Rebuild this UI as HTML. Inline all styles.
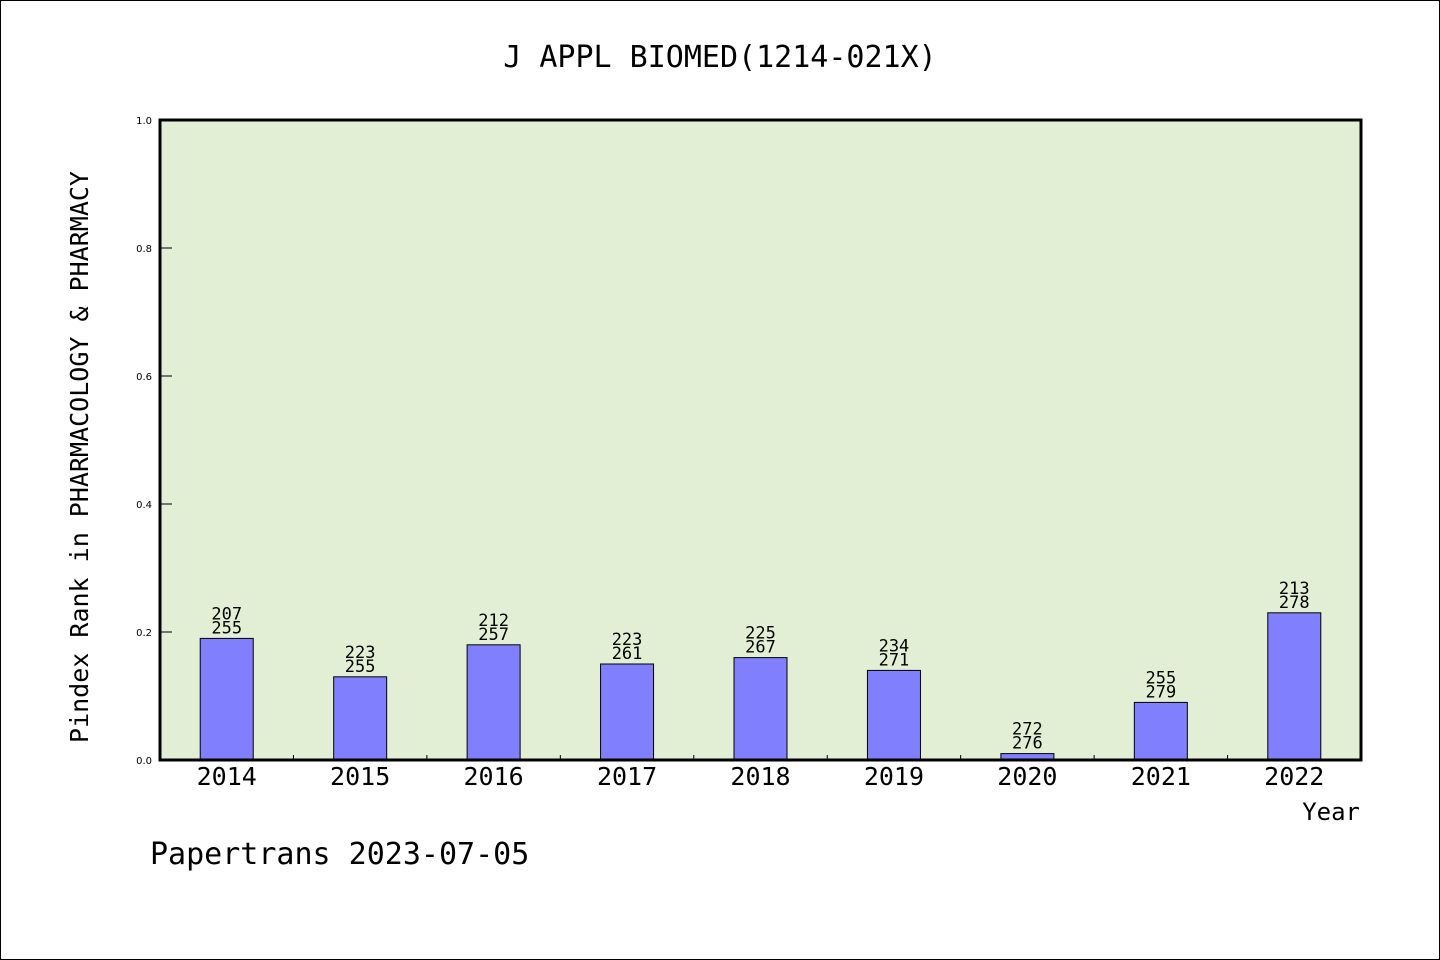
<!DOCTYPE html>
<html><head><meta charset="utf-8"><style>
html,body{margin:0;padding:0;background:#fff}
svg{display:block}
text{font-family:"DejaVu Sans Mono","Liberation Mono",monospace;fill:#000}
text.yt{font-family:"DejaVu Sans","Liberation Sans",sans-serif}
</style></head><body>
<svg id="chart" width="1440" height="960" xmlns="http://www.w3.org/2000/svg">
<rect x="0.5" y="0.5" width="1439" height="959" fill="#fff" stroke="#000"/>
<text x="720" y="67" font-size="30" text-anchor="middle">J APPL BIOMED(1214-021X)</text>
<rect x="160" y="120" width="1201" height="640" fill="#e2efd5"/>
<g id="yaxis"></g>
<g id="bars"></g>
<g id="xaxis"></g>
<rect x="160" y="120" width="1201" height="640" fill="none" stroke="#000" stroke-width="3"/>
<text transform="translate(88,457) rotate(-90)" font-size="25" text-anchor="middle">Pindex Rank in PHARMACOLOGY &amp; PHARMACY</text>
<text x="1360" y="820" font-size="24" text-anchor="end">Year</text>
<text x="150" y="864" font-size="30">Papertrans 2023-07-05</text>
</svg>
<script>
const categories = ["2014","2015","2016","2017","2018","2019","2020","2021","2022"];
const values = [0.19,0.13,0.18,0.15,0.16,0.14,0.01,0.09,0.23];
const rankTop = ["207","223","212","223","225","234","272","255","213"];
const rankBottom = ["255","255","257","261","267","271","276","279","278"];
const yTicks = [0,0.2,0.4,0.6,0.8,1.0];
const yTickLabels = ["0.0","0.2","0.4","0.6","0.8","1.0"];

const NS="http://www.w3.org/2000/svg";
const X0=160,X1=1361,Y0=760,Y1=120;
const bw=(X1-X0)/categories.length;
const xCenter=i=>X0+bw*(i+0.5);
const yScale=v=>Y0-(Y0-Y1)*v;
function mk(tag,attrs,parent){const e=document.createElementNS(NS,tag);for(const k in attrs)e.setAttribute(k,attrs[k]);parent.appendChild(e);return e;}
const ya=document.getElementById('yaxis'),bars=document.getElementById('bars'),xa=document.getElementById('xaxis');
yTicks.forEach((t,i)=>{
  const y=yScale(t);
  const l=mk('line',{x1:160,x2:172,y1:y,y2:y,stroke:'#000','stroke-width':1},ya);
  
  
  const tx=mk('text',{x:152,y:y+4,'font-size':10,'text-anchor':'end','class':'yt'},ya);
  tx.textContent=yTickLabels[i];
  
  
});
categories.forEach((c,i)=>{
  const cx=xCenter(i),y=yScale(values[i]);
  const r=mk('rect',{x:cx-26.5,y:y,width:53,height:Y0-y,fill:'#8080ff',stroke:'#000','stroke-width':1},bars);
  
  
  const t1=mk('text',{x:cx,y:y-19,'font-size':17,'text-anchor':'middle'},bars);
  t1.textContent=rankTop[i];
  
  
  const t2=mk('text',{x:cx,y:y-5,'font-size':17,'text-anchor':'middle'},bars);
  t2.textContent=rankBottom[i];
  
  
  const xl=mk('text',{x:cx,y:785,'font-size':25,'text-anchor':'middle'},xa);
  xl.textContent=c;
  
  
  if(i>0){
    const bx=X0+bw*i;
    const tk=mk('line',{x1:bx,x2:bx,y1:Y0,y2:Y0-5,stroke:'#000','stroke-width':1},xa);
    
    
  }
});
</script>
</body></html>
